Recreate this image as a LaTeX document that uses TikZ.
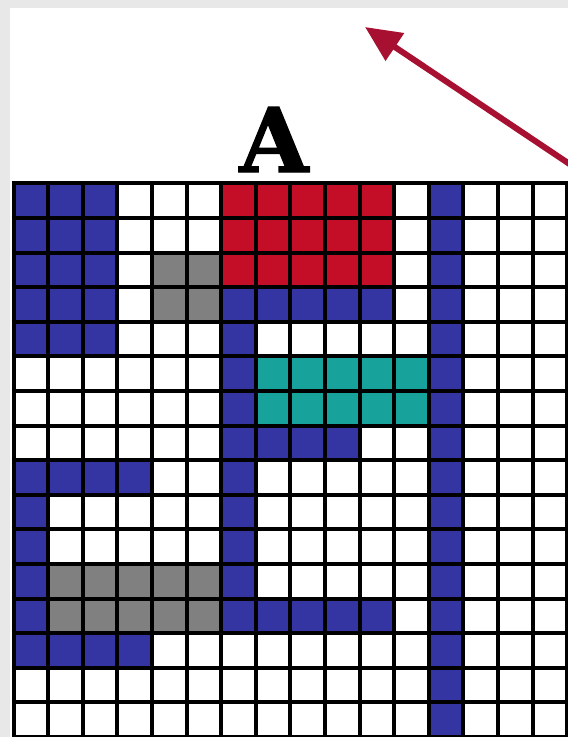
\documentclass[tikz,border=0pt]{standalone}
\usepackage{fontspec}
\newfontfamily\slabfont[BoldFeatures={FakeBold=1.6}]{DejaVu Serif}
\usetikzlibrary{arrows.meta}
\definecolor{cblue}{RGB}{52,52,162}
\definecolor{cred}{RGB}{196,14,40}
\definecolor{cteal}{RGB}{24,162,156}
\definecolor{cgray}{RGB}{128,128,128}
\definecolor{arrowred}{RGB}{168,16,50}
\definecolor{framegray}{RGB}{232,232,232}
\newcommand\gx{13.5}
\newcommand\gy{183.3}
\newcommand\gw{34.6}
\newcommand\fillcells[5]{\fill[#1] ({\gx+#2*\gw},{\gy+#3*\gw}) rectangle ({\gx+(#4+1)*\gw},{\gy+(#5+1)*\gw});}
\begin{document}
\begin{tikzpicture}[x=1pt,y=-1pt,
  gridline/.style={black,line width=4pt},
  letter/.style={font=\fontsize{89}{89}\selectfont\slabfont\bfseries,inner sep=0pt,anchor=base},
  pointer/.style={arrowred,line width=6pt,-{Triangle[length=36pt,width=32pt]}}]
\useasboundingbox (0,0) rectangle (568,737);
\fill[framegray] (0,0) rectangle (568,737);
\fill[white] (10,8) rectangle (568,737);
\begin{scope}
\clip (0,0) rectangle (568,737);
% white grid area
\fill[white] (\gx,\gy) rectangle ({\gx+16*\gw},{\gy+16*\gw});
% blue
\fillcells{cblue}{0}{0}{2}{4}
\fillcells{cblue}{12}{0}{12}{15}
\fillcells{cblue}{6}{3}{10}{3}
\fillcells{cblue}{6}{4}{6}{12}
\fillcells{cblue}{7}{7}{9}{7}
\fillcells{cblue}{0}{8}{3}{8}
\fillcells{cblue}{0}{9}{0}{13}
\fillcells{cblue}{0}{13}{3}{13}
\fillcells{cblue}{7}{12}{10}{12}
% red
\fillcells{cred}{6}{0}{10}{2}
% gray
\fillcells{cgray}{4}{2}{5}{3}
\fillcells{cgray}{1}{11}{5}{12}
% teal
\fillcells{cteal}{7}{5}{11}{6}
% grid lines
\foreach \i in {0,...,16}{
  \draw[gridline] ({\gx+\i*\gw},{\gy-2}) -- ({\gx+\i*\gw},{\gy+16*\gw+2});
  \draw[gridline] ({\gx-2},{\gy+\i*\gw}) -- ({\gx+16*\gw+2},{\gy+\i*\gw});
}
\end{scope}
\node[letter] (A) at (274,172) {A};
\coordinate (tail) at (574,167);
\coordinate (tip) at (365,27);
\draw[pointer] (tail) -- (tip);
\end{tikzpicture}
\end{document}
